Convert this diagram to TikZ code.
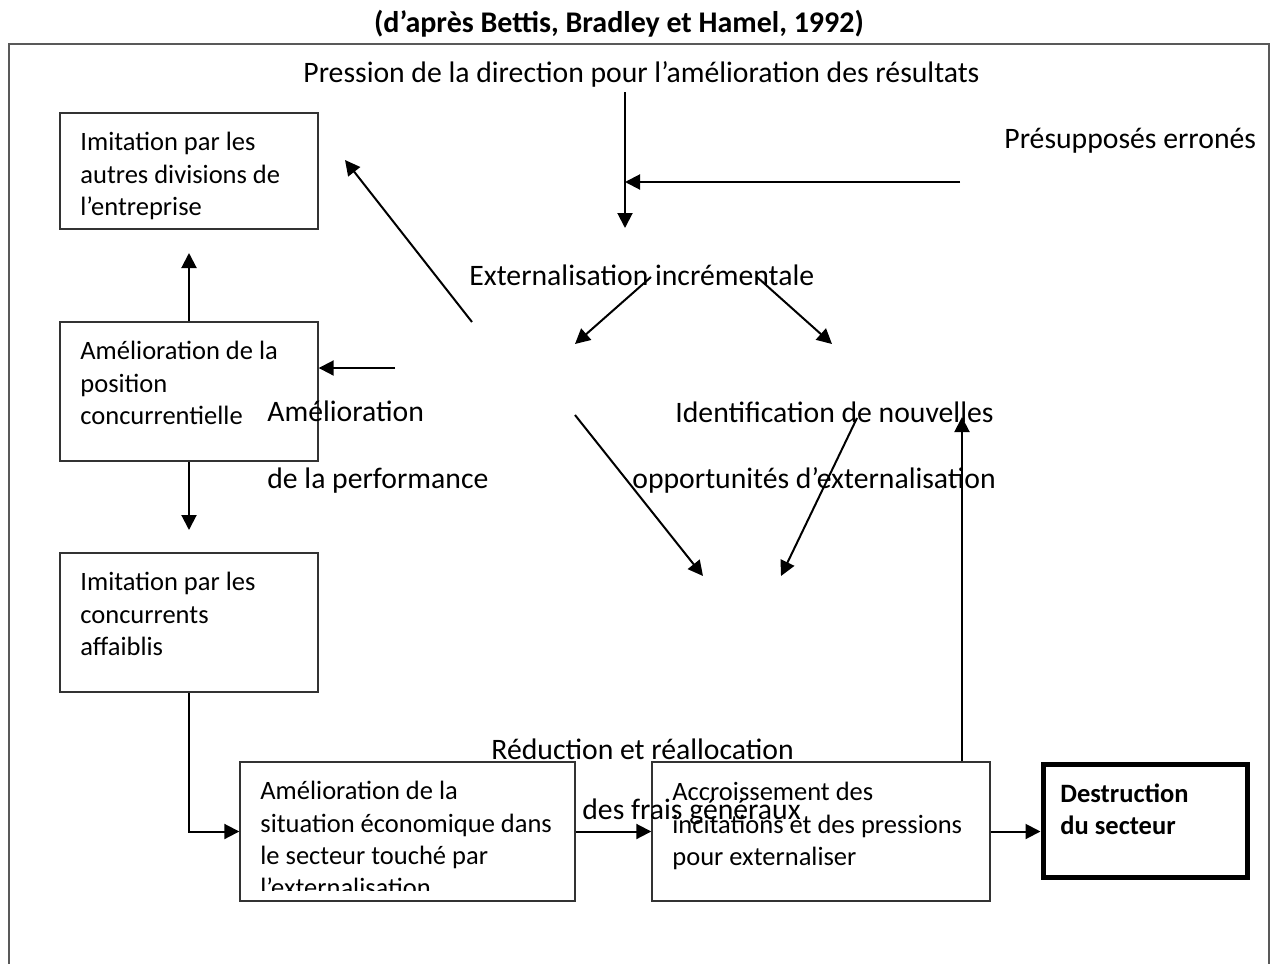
\documentclass[tikz,border=0pt]{standalone}
\usepackage{fontspec}
\setmainfont{Carlito}
\usetikzlibrary{arrows.meta,fit,calc}

\begin{document}
\begin{tikzpicture}[x=0.5pt,y=-0.5pt,
  box/.style={draw=black!80, line width=0.7pt, inner sep=0pt},
  boxtxt/.style={anchor=north west, inner sep=0pt, align=left, font=\fontsize{13.25}{16.1}\selectfont},
  lbl/.style={anchor=base west, inner sep=0pt, font=\fontsize{14.85}{18}\selectfont},
  arr/.style={line width=1pt, -{Triangle[length=7.5pt,width=7.5pt]}}]

\useasboundingbox (0,0) rectangle (1275,964);

% title and open frame
\node[anchor=base, inner sep=0pt, font=\bfseries\fontsize{15}{18}\selectfont] (title) at (619,32)
  {(d’après Bettis, Bradley et Hamel, 1992)};
\draw[black!65, line width=0.6pt] (9,964) -- (9,44) -- (1269,44) -- (1269,964);

% boxes
\node[box, fit={(60,113) (318,229)}] (imdiv) {};
\node[boxtxt] (imdivt) at (80,132) {Imitation par les\\autres divisions de\\l’entreprise};

\node[box, fit={(60,322) (318,461)}] (pos) {};
\node[boxtxt] (post) at (80,341) {Amélioration de la\\position\\concurrentielle};

\node[box, fit={(60,553) (318,692)}] (conc) {};
\node[boxtxt] (conct) at (80,572) {Imitation par les\\concurrents\\affaiblis};

\node[box, fit={(240,762) (575,901)}] (sit) {};
\begin{scope}
  \clip (240,762) rectangle (575,890);
  \node[boxtxt] (sitt) at (260,781) {Amélioration de la\\situation économique dans\\le secteur touché par\\l’externalisation};
\end{scope}

\node[box, fit={(652,762) (990,901)}] (accr) {};
\node[boxtxt] (accrt) at (672,782) {Accroissement des\\incitations et des pressions\\pour externaliser};

\node[box, draw=black, line width=2.5pt, fit={(1043,764) (1247,877)}] (dest) {};
\node[boxtxt, font=\bfseries\fontsize{13.25}{16.1}\selectfont] (destt) at (1060,783) {Destruction\\du secteur};

% free labels
\node[lbl] (press) at (303,82) {Pression de la direction pour l’amélioration des résultats};
\node[lbl] (presup) at (1004,148) {Présupposés erronés};
\node[lbl] (ext) at (469,285) {Externalisation incrémentale};
\node[lbl] (perf1) at (267,421) {Amélioration};
\node[lbl] (perf2) at (267,488) {de la performance};
\node[lbl] (ident1) at (675,422) {Identification de nouvelles};
\node[lbl] (ident2) at (632,488) {opportunités d’externalisation};
\node[lbl] (red1) at (491,759) {Réduction et réallocation};
\node[lbl] (red2) at (582,819) {des frais généraux};

% free arrow ends
\coordinate (p1) at (625,92);
\coordinate (p2) at (625,228);
\coordinate (e1) at (960,182);
\coordinate (d1) at (472,322);
\coordinate (d2) at (345,160);
\coordinate (u1) at (189,253);
\coordinate (h1) at (395,368);
\coordinate (v1) at (189,530);
\coordinate (x1) at (651,277);
\coordinate (x2) at (575,344);
\coordinate (x3) at (757,277);
\coordinate (x4) at (832,344);
\coordinate (q1) at (575,415);
\coordinate (q2) at (703,576);
\coordinate (q3) at (857,418);
\coordinate (q4) at (781,576);
\coordinate (up) at (962,417);

% connectors
\draw[arr] (p1) -- (p2);
\draw[arr] (e1) -- (e1 -| p1);
\draw[arr] (d1) -- (d2);
\draw[arr] (pos.north) -- (u1);
\draw[arr] (h1) -- (h1 -| pos.east);
\draw[arr] (pos.south) -- (v1);
\draw[arr] (x1) -- (x2);
\draw[arr] (x3) -- (x4);
\draw[arr] (q1) -- (q2);
\draw[arr] (q3) -- (q4);
\draw[arr] (up |- accr.north) -- (up);
\draw[arr] (conc.south) |- (sit.west);
\draw[arr] (sit.east) -- (accr.west);
\draw[arr] (accr.east) -- (accr.east -| dest.west);
\end{tikzpicture}
\end{document}
